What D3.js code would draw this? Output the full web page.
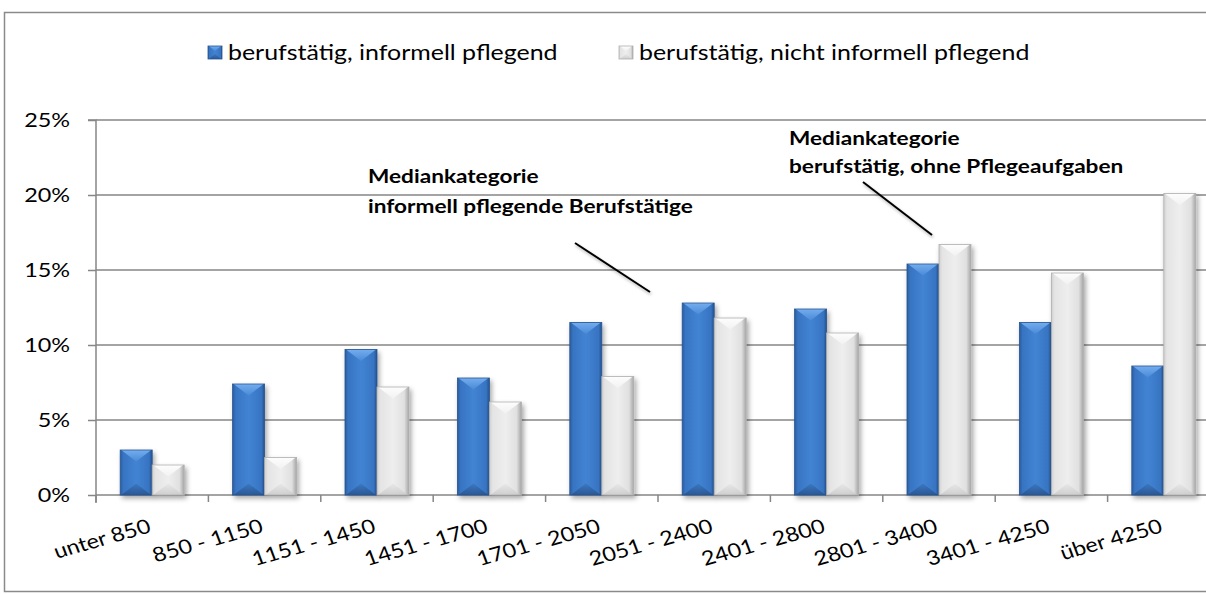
<!DOCTYPE html>
<html><head><meta charset="utf-8">
<script src="https://cdn.jsdelivr.net/npm/d3@7"></script>
<style>html,body{margin:0;background:#fff;overflow:hidden}svg{display:block;font-family:Lato,"Open Sans",sans-serif}</style>
</head><body><svg id="c" width="1206" height="595"></svg>
<script>
const categories = ["unter 850","850 - 1150","1151 - 1450","1451 - 1700","1701 - 2050","2051 - 2400","2401 - 2800","2801 - 3400","3401 - 4250","über 4250"];
const seriesNames = ["berufstätig, informell pflegend","berufstätig, nicht informell pflegend"];
const pflegend = [3.0, 7.4, 9.7, 7.8, 11.5, 12.8, 12.4, 15.4, 11.5, 8.6];
const nichtPflegend = [2.0, 2.5, 7.2, 6.2, 7.9, 11.8, 10.8, 16.7, 14.8, 20.1];
const yTicks = [0, 5, 10, 15, 20, 25];
const annotations = [
  {lines:["Mediankategorie","informell pflegende Berufstätige"]},
  {lines:["Mediankategorie","berufstätig, ohne Pflegeaufgaben"]}
];

const svg = d3.select("#c");
const defs = svg.append("defs");
const W = 1206;
const pLeft = 96, pBottom = 495, pTop = 120, pRight = 96 + 112.4*10;
const SX = 1.16; // horizontal text stretch seen in the reference

function grad(id, stops, horiz){
  const g = defs.append("linearGradient").attr("id", id)
    .attr("x1",0).attr("y1",0).attr("x2",horiz?1:0).attr("y2",horiz?0:1);
  stops.forEach(s=>g.append("stop").attr("offset",s[0]).attr("stop-color",s[1]));
}
grad("gBlue", [[0,"#2a5c9e"],[0.1,"#3774c2"],[0.5,"#4284d3"],[0.9,"#3774c2"],[1,"#24518c"]], true);
grad("gGray", [[0,"#d0d0d0"],[0.1,"#e4e4e4"],[0.5,"#eeeeee"],[0.85,"#e0e0e0"],[1,"#a5a5a5"]], true);
grad("gBlueTop", [[0,"#74adef"],[1,"#4a8ad6"]], false);
grad("gGrayTop", [[0,"#fdfdfd"],[1,"#f2f2f2"]], false);
grad("gBlueBot", [[0,"#3a74bd"],[1,"#254f88"]], false);
grad("gGrayBot", [[0,"#e6e6e6"],[1,"#c8c8c8"]], false);
const f = defs.append("filter").attr("id","sh").attr("x","-20%").attr("y","-20%").attr("width","150%").attr("height","150%");
f.append("feDropShadow").attr("dx",2).attr("dy",3).attr("stdDeviation",2.5).attr("flood-color","#000").attr("flood-opacity",0.35);
const f2 = defs.append("filter").attr("id","lsh").attr("x","-20%").attr("y","-20%").attr("width","150%").attr("height","150%");
f2.append("feDropShadow").attr("dx",1).attr("dy",2).attr("stdDeviation",1.5).attr("flood-color","#000").attr("flood-opacity",0.3);

// border (right side lies outside the picture)
svg.append("path").attr("d",`M${W+40},12.5H4.5V591.5H${W+40}`)
  .attr("fill","none").attr("stroke","#8a8a8a").attr("stroke-width",1.5);

const x0 = d3.scaleBand().domain(categories).range([pLeft, pRight]).padding(0);
const x1 = d3.scaleBand().domain(seriesNames).range([0, x0.bandwidth()]).paddingInner(0).paddingOuter(0.756);
const y = d3.scaleLinear().domain([0, 25]).range([pBottom, pTop]);

// gridlines
svg.append("g").selectAll("line").data(yTicks.filter(d=>d>0)).join("line")
  .attr("x1", pLeft).attr("x2", W+20).attr("y1", d=>y(d)).attr("y2", d=>y(d))
  .attr("stroke","#868686").attr("stroke-width",1.5);

// y axis
const yAxis = d3.axisLeft(y).tickValues(yTicks).tickFormat(d=>d+"%").tickSize(8).tickPadding(26);
const yg = svg.append("g").attr("transform",`translate(${pLeft},0)`).call(yAxis);
yg.select(".domain").attr("stroke","#868686").attr("stroke-width",1.5).attr("d",`M-8,${pTop}H0V${pBottom+8}`);
yg.selectAll(".tick line").attr("stroke","#868686").attr("stroke-width",1.5);
yg.selectAll(".tick text").attr("font-size",19.5).attr("fill","#000").attr("font-family","Lato")
  .attr("x",0).attr("dy","0.35em").attr("transform",`translate(-26,0) scale(1.2,1)`);

// x axis
const xg = svg.append("g").attr("transform",`translate(0,${pBottom})`);
xg.append("line").attr("x1",pLeft).attr("x2",W+20).attr("stroke","#868686").attr("stroke-width",1.5);
xg.selectAll("line.t").data(d3.range(categories.length+1)).join("line").attr("class","t")
  .attr("x1",i=>pLeft+i*x0.step()).attr("x2",i=>pLeft+i*x0.step()).attr("y1",0).attr("y2",7)
  .attr("stroke","#868686").attr("stroke-width",1.5);
xg.selectAll("text").data(categories).join("text")
  .attr("transform", d=>`translate(${x0(d)+x0.bandwidth()/2},${37}) scale(${SX},1) rotate(-18)`)
  .attr("text-anchor","end").attr("font-size",20).attr("fill","#000").text(d=>d);

// bars
const data = categories.map((c,i)=>({cat:c, vals:[
  {s:seriesNames[0], v:pflegend[i], k:0},{s:seriesNames[1], v:nichtPflegend[i], k:1}]}));
function drawBar(g, x, yy, w, h, k, shadow=true){
  const b = Math.min(w*0.36, h/2);
  const gg = g.append("g").attr("filter",shadow?"url(#sh)":null);
  gg.append("rect").attr("x",x).attr("y",yy).attr("width",w).attr("height",h)
    .attr("fill", k? "url(#gGray)":"url(#gBlue)");
  gg.append("path").attr("d",`M${x+1},${yy}H${x+w-1}L${x+w/2},${yy+b}Z`)
    .attr("fill", k? "url(#gGrayTop)":"url(#gBlueTop)");
  gg.append("path").attr("d",`M${x+1},${yy+h}H${x+w-1}L${x+w/2},${yy+h-b}Z`)
    .attr("fill", k? "url(#gGrayBot)":"url(#gBlueBot)").attr("opacity",0.8);
  gg.append("rect").attr("x",x).attr("y",yy).attr("width",w).attr("height",h)
    .attr("fill","none").attr("stroke",k?"#b0b0b0":"#285592").attr("stroke-width",0.8);
}
const bg = svg.append("g");
data.forEach(d=>{
  d.vals.forEach(s=>{
    const x = x0(d.cat)+x1(s.s), w = x1.bandwidth();
    drawBar(bg, x, y(s.v), w, y(0)-y(s.v), s.k);
  });
});

// legend
const legX = [208, 619];
seriesNames.forEach((n,i)=>{
  drawBar(svg, legX[i], 46, 14, 13, i, false);
  svg.append("text").attr("transform",`translate(${legX[i]+20},60) scale(${SX},1)`)
    .attr("font-size",21.5).attr("fill","#000").text(n);
});

// annotations
const annPos = [{x:368,y:183,dy:30,lx1:575,ly1:243,lx2:650,ly2:292},{x:789,y:145,dy:28,lx1:863,ly1:182,lx2:932,ly2:235}];
annotations.forEach((a,i)=>{
  const p = annPos[i];
  const t = svg.append("text").attr("transform",`translate(${p.x},${p.y}) scale(${SX},1)`)
    .attr("font-weight","bold").attr("font-size",19.5).attr("fill","#000");
  a.lines.forEach((l,j)=>t.append("tspan").attr("x",0).attr("y",j*p.dy).text(l));
  svg.append("line").attr("x1",p.lx1).attr("y1",p.ly1).attr("x2",p.lx2).attr("y2",p.ly2)
    .attr("stroke","#000").attr("stroke-width",2).attr("filter","url(#lsh)");
});
</script></body></html>
